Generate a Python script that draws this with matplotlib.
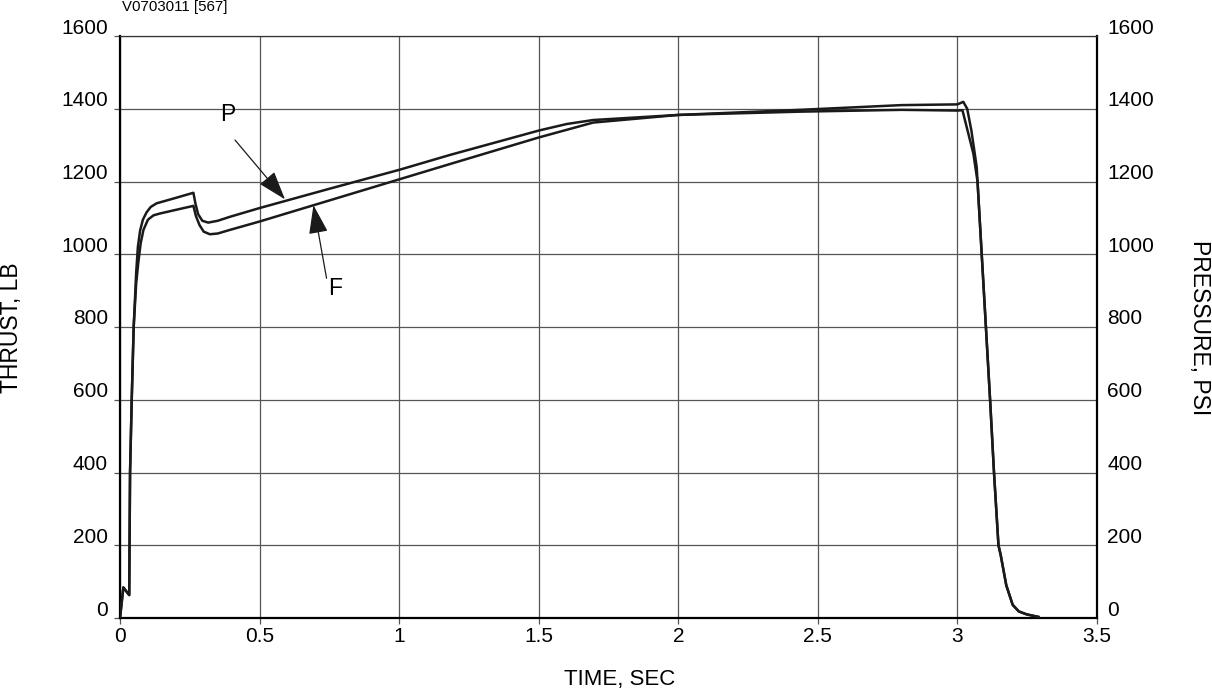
import numpy as np
import matplotlib
matplotlib.use("Agg")
import matplotlib.pyplot as plt
from matplotlib.transforms import ScaledTranslation

plt.rcParams["font.family"] = ["Liberation Sans", "DejaVu Sans"]

# ---------------------------------------------------------------------------
# data
# ---------------------------------------------------------------------------
p_time = [0, 0.012, 0.033, 0.036, 0.042, 0.049, 0.058, 0.064, 0.072, 0.082, 0.095,
          0.11, 0.131, 0.2, 0.263, 0.27, 0.28, 0.295, 0.316, 0.35, 0.394, 0.5,
          0.75, 1.0, 1.182, 1.5, 1.6, 1.695, 2.0, 2.436, 2.8, 3.0, 3.021, 3.035,
          3.05, 3.069, 3.087, 3.102, 3.117, 3.131, 3.147, 3.155, 3.175, 3.198,
          3.22, 3.248, 3.29]
p_psi = [0, 84, 63, 400, 600, 800, 950, 1020, 1065, 1095, 1115,
         1130, 1140, 1155, 1169, 1140, 1110, 1092, 1087, 1092, 1103, 1127,
         1180, 1232, 1273, 1340, 1358, 1369, 1383, 1397, 1410, 1412, 1419, 1400,
         1340, 1240, 1000, 800, 600, 400, 200, 173, 90, 36,
         18, 10, 3]

f_time = [0, 0.012, 0.033, 0.036, 0.042, 0.049, 0.058, 0.066, 0.074, 0.084, 0.10,
          0.12, 0.143, 0.2, 0.263, 0.272, 0.285, 0.3, 0.322, 0.35, 0.394, 0.5,
          1.182, 1.5, 1.695, 2.0, 2.436, 2.8, 3.0, 3.018, 3.057, 3.072,
          3.087, 3.102, 3.117, 3.131, 3.147, 3.155, 3.175, 3.198, 3.22, 3.248, 3.29]
f_lb = [0, 84, 63, 400, 600, 800, 920, 980, 1030, 1067, 1095,
        1107, 1112, 1122, 1133, 1105, 1080, 1062, 1055, 1057, 1067, 1090,
        1248, 1321, 1362, 1383, 1392, 1397, 1395, 1396, 1277, 1200,
        1000, 800, 600, 400, 200, 173, 90, 36, 18, 10, 3]

x_ticks = [0, 0.5, 1, 1.5, 2, 2.5, 3, 3.5]
x_tick_labels = ["0", "0.5", "1", "1.5", "2", "2.5", "3", "3.5"]
y_ticks = [0, 200, 400, 600, 800, 1000, 1200, 1400, 1600]

# ---------------------------------------------------------------------------
# figure
# ---------------------------------------------------------------------------
fig = plt.figure(figsize=(12.12, 6.9), dpi=100)
ax = fig.add_axes([120 / 1212, 72 / 690, 977 / 1212, 582 / 690])

ax.plot(p_time, p_psi, color="#1a1a1a", lw=1.8, zorder=3)
ax.plot(f_time, f_lb, color="#1a1a1a", lw=1.8, zorder=3)

ax.set_xlim(0, 3.5)
ax.set_ylim(0, 1600)
ax.set_xticks(x_ticks)
ax.set_xticklabels(x_tick_labels)
ax.set_yticks(y_ticks)
ax.grid(True, color="#555555", lw=0.9)
ax.tick_params(axis="both", direction="out", length=4.3, width=0.9,
               color="#555555", labelsize=15, pad=2)
ax.tick_params(axis="y", pad=4.3)

for side in ["left", "bottom", "right"]:
    ax.spines[side].set_linewidth(1.6)
ax.spines["top"].set_linewidth(0.9)
ax.spines["top"].set_color("#333333")

# right axis, same scale
ax2 = ax.twinx()
ax2.set_ylim(0, 1600)
ax2.set_yticks(y_ticks)
ax2.tick_params(axis="y", length=0, labelsize=15, pad=7.2)
for s in ax2.spines.values():
    s.set_visible(False)

# y labels sit a little above their grid lines
shift = ScaledTranslation(0, 10 / 100, fig.dpi_scale_trans)
for lab in ax.get_yticklabels() + ax2.get_yticklabels():
    lab.set_transform(lab.get_transform() + shift)

fig.text(12 / 1212, 1 - 328 / 690, "THRUST, LB", rotation=90, fontsize=16.5,
         ha="center", va="center")
fig.text(1200 / 1212, 1 - 328 / 690, "PRESSURE, PSI", rotation=-90, fontsize=16.5,
         ha="center", va="center")
fig.text(620 / 1212, 1 - 679 / 690, "TIME, SEC", fontsize=16,
         ha="center", va="center")
fig.text(122 / 1212, 1 - 7 / 690, "V0703011 [567]", fontsize=10.8,
         ha="left", va="center")

# curve markers
arrow = dict(arrowstyle="-|>,head_length=0.9,head_width=0.3", color="#1a1a1a",
             lw=0.9, mutation_scale=20, shrinkA=0, shrinkB=0)
ax.text(0.387, 1383, "P", fontsize=16.5, ha="center", va="center")
ax.annotate("", xy=(0.591, 1151), xytext=(0.412, 1314), arrowprops=arrow)
ax.text(0.770, 906, "F", fontsize=16.5, ha="center", va="center")
ax.annotate("", xy=(0.693, 1135), xytext=(0.740, 934), arrowprops=arrow)

fig.savefig("out.png", dpi=100)
